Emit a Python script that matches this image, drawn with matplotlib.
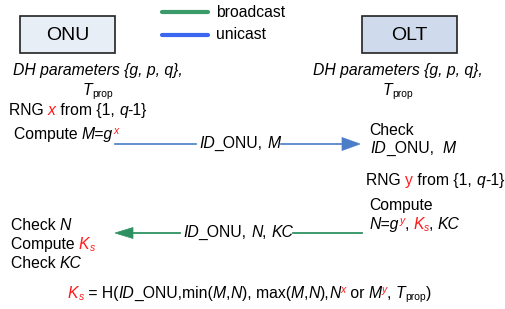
import matplotlib
matplotlib.use('Agg')
import matplotlib.pyplot as plt
from matplotlib.patches import Rectangle, Polygon

# ---- content ----
entities = ["ONU", "OLT"]
legend_labels = ["broadcast", "unicast"]
dh_text = "DH parameters {g, p, q},"

W, H = 505, 309
FONT = 'Liberation Sans'
FS = 11.3
RED = '#ff1a1a'
GREEN = '#2f9161'
BLUE = '#4a7cc8'
LEG_GREEN = '#3a9a6a'
LEG_BLUE = '#3a66f0'

fig = plt.figure(figsize=(W / 100, H / 100), dpi=100)
ax = fig.add_axes([0, 0, 1, 1])
ax.set_xlim(0, W)
ax.set_ylim(H, 0)
ax.axis('off')
renderer = fig.canvas.get_renderer()

PX = 100 / 72.0  # pixels per point


def measure(s, size, style):
    t = ax.text(0, 0, s + '|', fontsize=size, style=style, family=FONT)
    w1 = t.get_window_extent(renderer).width
    t.set_text('|')
    w2 = t.get_window_extent(renderer).width
    t.remove()
    return w1 - w2


def rich(x, y, pieces, size=FS, align='left'):
    items = []
    total = 0
    for p in pieces:
        s = p[0]
        o = p[1] if len(p) > 1 else {}
        pos = o.get('pos')
        psize = size * 0.66 if pos else size
        style = 'italic' if o.get('it') else 'normal'
        w = measure(s, psize, style)
        items.append((s, psize, style, o.get('color', 'black'), pos, w))
        total += w
    if align == 'center':
        x -= total / 2
    for s, psize, style, color, pos, w in items:
        dy = 0
        if pos == 'sup':
            dy = -0.3 * size * PX
        elif pos == 'sub':
            dy = 0.12 * size * PX
        ax.text(x, y + dy, s, fontsize=psize, style=style, color=color,
                family=FONT, ha='left', va='baseline')
        x += w
    return total


I = {'it': True}
R = {'color': RED}
RI = {'color': RED, 'it': True}
RSUP = {'color': RED, 'it': True, 'pos': 'sup'}
RSUB = {'color': RED, 'it': True, 'pos': 'sub'}
SUB = {'pos': 'sub'}

# ---- boxes ----
ax.add_patch(Rectangle((20, 16), 95, 37, facecolor='#e8eef6',
                       edgecolor='#222222', lw=1.2))
ax.add_patch(Rectangle((362, 16), 95, 37, facecolor='#cfdaec',
                       edgecolor='#222222', lw=1.2))
ax.text(67.5, 35, entities[0], fontsize=14, family=FONT, ha='center', va='center')
ax.text(409.5, 35, entities[1], fontsize=14, family=FONT, ha='center', va='center')

# ---- legend ----
ax.plot([162, 208], [12.3, 12.3], color=LEG_GREEN, lw=3, solid_capstyle='round')
ax.plot([162, 208], [34.5, 34.5], color=LEG_BLUE, lw=3, solid_capstyle='round')
ax.text(216, 12.3, legend_labels[0], fontsize=FS, family=FONT, va='center')
ax.text(216, 34.5, legend_labels[1], fontsize=FS, family=FONT, va='center')

# ---- DH parameters ----
for cx in (97.5, 398):
    rich(cx, 75, [(dh_text, I)], align='center')
    rich(cx, 95, [("T", I), ("prop", SUB)], align='center')

# ---- ONU side ----
rich(9, 115, [("RNG ",), ("x", RI), (" from {1, ",), ("q", I), ("-1}",)])
rich(14, 139, [("Compute ",), ("M=g", I), ("x", RSUP)])

# blue unicast arrow
yb = 144
lx = 199
lw_lab = rich(lx, 148, [("ID", I), ("_ONU, ",), ("M", I)])
ax.plot([115, lx - 3], [yb, yb], color=BLUE, lw=1.2)
ax.plot([lx + lw_lab + 1, 343], [yb, yb], color=BLUE, lw=1.2)
ax.add_patch(Polygon([(342, yb - 6.5), (360, yb), (342, yb + 6.5)],
                     closed=True, facecolor=BLUE, edgecolor=BLUE, lw=0.5))

# ---- OLT side ----
rich(369, 135, [("Check",)])
rich(370, 153, [("ID", I), ("_ONU,  ",), ("M", I)])
rich(366, 185, [("RNG ",), ("y", R), (" from {1, ",), ("q", I), ("-1}",)])
rich(369, 210, [("Compute",)])
rich(370, 229, [("N=g", I), ("y", RSUP), (", ",), ("K", RI), ("s", RSUB),
                (", ",), ("KC", I)])

# green broadcast arrow
yg = 233
gx = 183
gw = rich(gx, 237, [("ID", I), ("_ONU, ",), ("N", I), (", ",), ("KC", I)])
ax.plot([132, gx - 3], [yg, yg], color=GREEN, lw=1.3)
ax.plot([gx + gw, 362], [yg, yg], color=GREEN, lw=1.3)
ax.add_patch(Polygon([(133, yg - 5.5), (115, yg), (133, yg + 5.5)],
                     closed=True, facecolor=GREEN, edgecolor=GREEN, lw=0.5))

# ONU checks
rich(11, 230, [("Check ",), ("N", I)])
rich(11, 249, [("Compute ",), ("K", RI), ("s", RSUB)])
rich(11, 268, [("Check ",), ("KC", I)])

# ---- formula ----
rich(68, 298, [("K", RI), ("s", RSUB), (" = H(",), ("ID", I), ("_ONU,min(",),
               ("M", I), (",",), ("N", I), ("), max(",), ("M", I), (",",),
               ("N", I), ("),",), ("N", I), ("x", RSUP), (" or ",), ("M", I),
               ("y", RSUP), (", ",), ("T", I), ("prop", SUB), (")",)])

fig.savefig('out.png', dpi=100)
